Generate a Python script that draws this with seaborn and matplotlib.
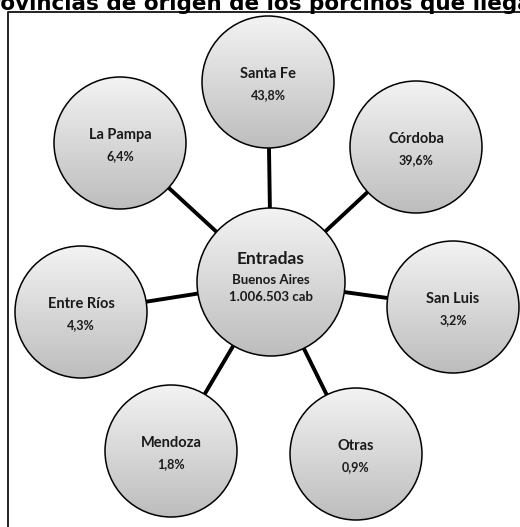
import numpy as np
import matplotlib
matplotlib.use("Agg")
import matplotlib.pyplot as plt
from matplotlib.patches import Circle
from matplotlib.colors import LinearSegmentedColormap
import seaborn as sns

# Data
TITLE = "Provincias de origen de los porcinos que llegan a Buenos Aires"
HUB_LABEL = "Entradas"
HUB_ORIGIN = "Buenos Aires"
HUB_TOTAL = "1.006.503 cab"
provinces = ["Santa Fe", "Córdoba", "San Luis", "Otras", "Mendoza", "Entre Ríos", "La Pampa"]
shares = [43.8, 39.6, 3.2, 0.9, 1.8, 4.3, 6.4]

# Layout (pixels, y down)
W, H = 520, 527
HUB_XY = (271, 282)
HUB_R = 74
NODE_R = 66
node_xy = [(268, 82), (416, 147), (453, 307), (356, 454), (171, 451), (81, 312), (120, 143)]

sns.set_theme(style="white")
plt.rcParams['font.family'] = ['Lato', 'DejaVu Sans']

fig = plt.figure(figsize=(W / 100, H / 100), dpi=100)
ax = fig.add_axes([0, 0, 1, 1])
ax.set_xlim(0, W)
ax.set_ylim(H, 0)
ax.set_aspect('equal')
ax.axis('off')

grey_grad = LinearSegmentedColormap.from_list("g", ["#f3f3f3", "#bdbdbd"])
grad = np.linspace(0, 1, 256).reshape(-1, 1)


def bubble(xy, r):
    x, y = xy
    c = Circle((x, y), r, facecolor='none', edgecolor='black', lw=1.1, zorder=4)
    ax.add_patch(c)
    im = ax.imshow(grad, cmap=grey_grad, extent=(x - r, x + r, y + r, y - r),
                   aspect='auto', zorder=3, interpolation='bilinear')
    im.set_clip_path(c)


# spokes
for (x, y) in node_xy:
    ax.plot([HUB_XY[0], x], [HUB_XY[1], y], color='black', lw=2.8, zorder=1,
            solid_capstyle='butt')

# frame
ax.plot([8, 8, W + 5], [H + 5, 11.5, 11.5], color='#222222', lw=1.4, zorder=0)

# nodes
for name, share, xy in zip(provinces, shares, node_xy):
    bubble(xy, NODE_R)
    ax.text(xy[0], xy[1] - 8, name, ha='center', va='center', fontsize=10.5,
            fontweight='bold', color='#1a1a1a', zorder=5)
    ax.text(xy[0], xy[1] + 13, f"{share:.1f}%".replace('.', ','), ha='center',
            va='center', fontsize=9, fontweight='bold', color='#1a1a1a', zorder=5)

bubble(HUB_XY, HUB_R)
ax.text(HUB_XY[0], HUB_XY[1] - 23, HUB_LABEL, ha='center', va='center', fontsize=12.5,
        fontweight='bold', color='#1a1a1a', zorder=5)
ax.text(HUB_XY[0], HUB_XY[1] - 2, HUB_ORIGIN, ha='center', va='center', fontsize=9.5,
        fontweight='bold', color='#1a1a1a', zorder=5)
ax.text(HUB_XY[0], HUB_XY[1] + 15, HUB_TOTAL, ha='center', va='center', fontsize=9.5,
        fontweight='bold', color='#1a1a1a', zorder=5)

# title, cropped at the top-left like the source image
fig.text(-26.5 / W, 1 - 10 / H, TITLE, ha='left', va='baseline', fontsize=15.5,
         fontweight='bold', family='DejaVu Sans', color='black')

fig.savefig("out.png", dpi=100)
